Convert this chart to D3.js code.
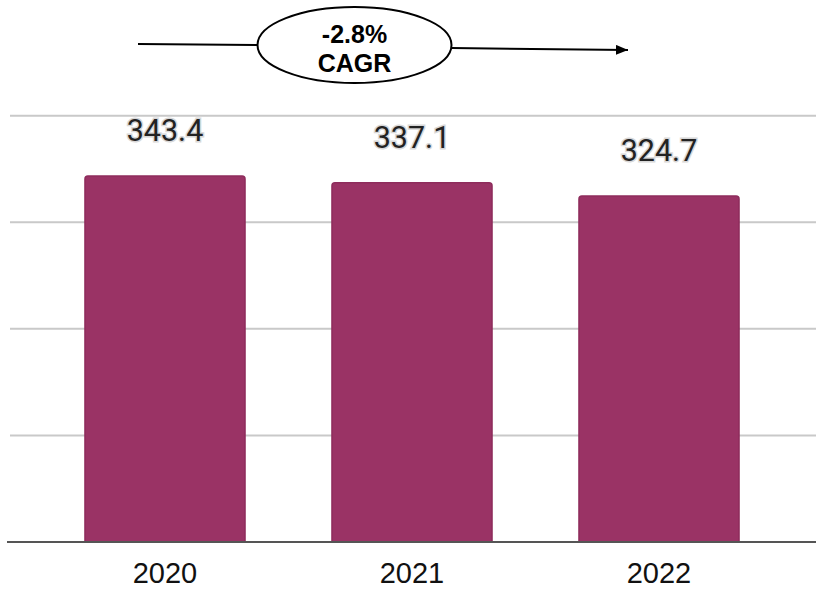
<!DOCTYPE html>
<html>
<head>
<meta charset="utf-8">
<script src="https://cdn.jsdelivr.net/npm/d3@7"></script>
<style>
  html, body { margin: 0; padding: 0; background: #fff; }
  svg { display: block; }
</style>
</head>
<body>
<svg id="chart" width="816" height="589"></svg>
<script>
const categories = ["2020", "2021", "2022"];
const values = [343.4, 337.1, 324.7];
const valueLabels = ["343.4", "337.1", "324.7"];
const gridTicks = [100, 200, 300, 400];
const cagrLines = ["-2.8%", "CAGR"];

const W = 816, H = 589;
const baseY = 542, topY = 115.7;
const svg = d3.select("#chart");

const x = d3.scaleBand().domain(categories).range([8, 816])
  .paddingInner(0.352).paddingOuter(0.3116);
const y = d3.scaleLinear().domain([0, 400]).range([baseY, topY]);

// gridlines
svg.append("g").selectAll("line").data(gridTicks).join("line")
  .attr("x1", 10).attr("x2", W)
  .attr("y1", d => y(d)).attr("y2", d => y(d))
  .attr("stroke", "#c9c9c9").attr("stroke-width", 2);

// bars with rounded top corners
const r = 3;
svg.append("g").selectAll("path").data(values).join("path")
  .attr("d", (d, i) => {
    const x0 = x(categories[i]), x1 = x0 + x.bandwidth();
    const yt = y(d), yb = y(0);
    return `M${x0},${yb}V${yt + r}Q${x0},${yt} ${x0 + r},${yt}H${x1 - r}Q${x1},${yt} ${x1},${yt + r}V${yb}Z`;
  })
  .attr("fill", "#9a3365")
  .attr("stroke", "#8e2c5c").attr("stroke-width", 1.5);

// baseline
svg.append("line").attr("x1", 7).attr("x2", W)
  .attr("y1", baseY).attr("y2", baseY)
  .attr("stroke", "#555").attr("stroke-width", 2);

// value labels
svg.append("g").selectAll("text").data(values).join("text")
  .attr("x", (d, i) => x(categories[i]) + x.bandwidth() / 2)
  .attr("y", d => y(d) - 35)
  .attr("text-anchor", "middle")
  .attr("font-family", "Roboto, 'Liberation Sans', sans-serif")
  .attr("font-size", 30.5)
  .attr("fill", "#222")
  .attr("stroke", "#d8d8d8").attr("stroke-width", 3)
  .attr("paint-order", "stroke")
  .text((d, i) => valueLabels[i]);

// x axis labels
svg.append("g").selectAll("text").data(categories).join("text")
  .attr("x", d => x(d) + x.bandwidth() / 2)
  .attr("y", 583)
  .attr("text-anchor", "middle")
  .attr("font-family", "'Liberation Sans', Arial, sans-serif")
  .attr("font-size", 29)
  .attr("fill", "#111")
  .text(d => d);

// CAGR annotation
const cx = 354.5, cy = 45, rx = 97, ry = 38;
svg.append("defs").append("marker")
  .attr("id", "arrow").attr("viewBox", "0 0 12 10")
  .attr("refX", 12).attr("refY", 5)
  .attr("markerWidth", 12).attr("markerHeight", 10)
  .attr("markerUnits", "userSpaceOnUse")
  .attr("orient", "auto")
  .append("path").attr("d", "M0,0L12,5L0,10Z").attr("fill", "#000");

svg.append("line").attr("x1", 138).attr("y1", 44).attr("x2", cx - rx).attr("y2", 45)
  .attr("stroke", "#000").attr("stroke-width", 2);
svg.append("line").attr("x1", cx + rx).attr("y1", 48).attr("x2", 628).attr("y2", 50)
  .attr("stroke", "#000").attr("stroke-width", 2)
  .attr("marker-end", "url(#arrow)");
svg.append("ellipse").attr("cx", cx).attr("cy", cy).attr("rx", rx).attr("ry", ry)
  .attr("fill", "#fff").attr("stroke", "#000").attr("stroke-width", 2);
svg.append("g").selectAll("text").data(cagrLines).join("text")
  .attr("x", cx)
  .attr("y", (d, i) => 43 + i * 29)
  .attr("text-anchor", "middle")
  .attr("font-family", "'Liberation Sans', Arial, sans-serif")
  .attr("font-weight", "bold")
  .attr("font-size", 25)
  .attr("fill", "#000")
  .text(d => d);
</script>
</body>
</html>
